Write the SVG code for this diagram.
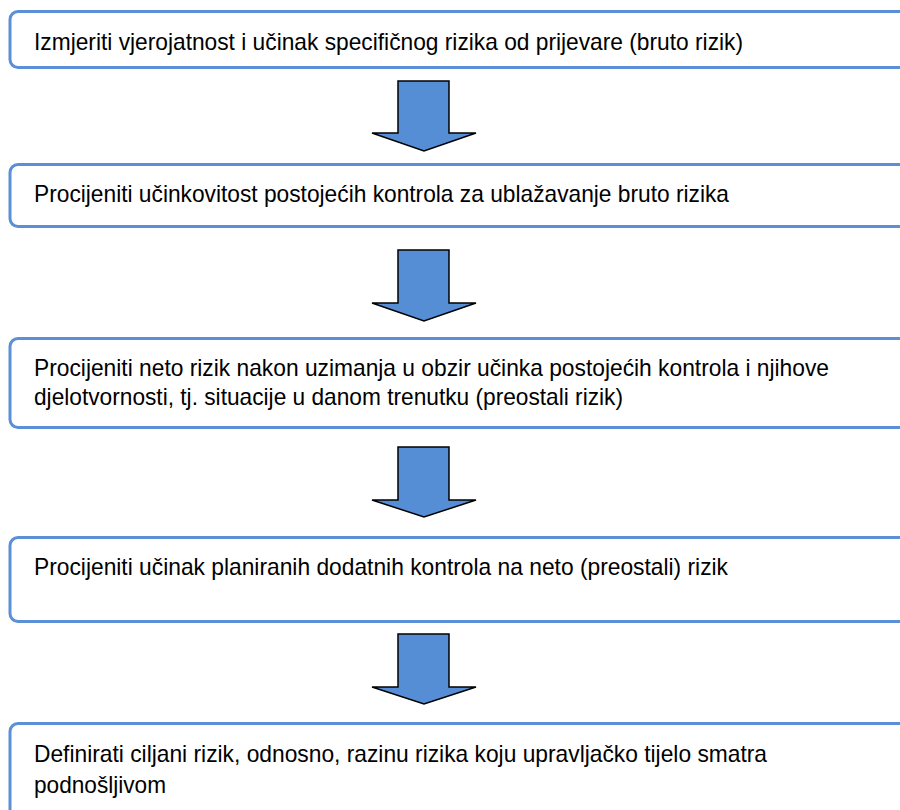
<svg xmlns="http://www.w3.org/2000/svg" width="900" height="810" viewBox="0 0 900 810">
<style>
.box{fill:#ffffff;stroke:#5B8FD6;stroke-width:3}
.lbl{font-family:"Liberation Sans",Arial,sans-serif;font-size:24px;fill:#000000}
.arr{fill:#558ED5;stroke:#000000;stroke-width:1.5;stroke-linejoin:miter}
</style>
<rect width="900" height="810" fill="#ffffff"/>
<g id="connectors">
<polygon class="arr" points="398,81 449,81 449,133 476,133 424,151 372,133 398,133"/>
<polygon class="arr" points="398,250 449,250 449,303 476,303 424,321 372,303 398,303"/>
<polygon class="arr" points="398,447 449,447 449,500 476,500 424,517 372,500 398,500"/>
<polygon class="arr" points="398,634 449,634 449,687 476,687 424,704 372,687 398,687"/>
</g>
<g id="node1">
<rect class="box" x="10" y="11.5" width="920" height="56" rx="8"/>
<text class="lbl" x="34" y="50" textLength="709" lengthAdjust="spacingAndGlyphs">Izmjeriti vjerojatnost i učinak specifičnog rizika od prijevare (bruto rizik)</text>
</g>
<g id="node2">
<rect class="box" x="10" y="164.5" width="920" height="62" rx="8"/>
<text class="lbl" x="34" y="202" textLength="695" lengthAdjust="spacingAndGlyphs">Procijeniti učinkovitost postojećih kontrola za ublažavanje bruto rizika</text>
</g>
<g id="node3">
<rect class="box" x="10" y="338.5" width="920" height="89" rx="8"/>
<text class="lbl" x="34" y="376" textLength="795" lengthAdjust="spacingAndGlyphs">Procijeniti neto rizik nakon uzimanja u obzir učinka postojećih kontrola i njihove</text>
<text class="lbl" x="34" y="405" textLength="589" lengthAdjust="spacingAndGlyphs">djelotvornosti, tj. situacije u danom trenutku (preostali rizik)</text>
</g>
<g id="node4">
<rect class="box" x="10" y="537.5" width="920" height="84" rx="8"/>
<text class="lbl" x="34" y="575" textLength="694" lengthAdjust="spacingAndGlyphs">Procijeniti učinak planiranih dodatnih kontrola na neto (preostali) rizik</text>
</g>
<g id="node5">
<rect class="box" x="10" y="723.5" width="920" height="110" rx="8"/>
<text class="lbl" x="34" y="762" textLength="733" lengthAdjust="spacingAndGlyphs">Definirati ciljani rizik, odnosno, razinu rizika koju upravljačko tijelo smatra</text>
<text class="lbl" x="34" y="793" textLength="132" lengthAdjust="spacingAndGlyphs">podnošljivom</text>
</g>
</svg>
